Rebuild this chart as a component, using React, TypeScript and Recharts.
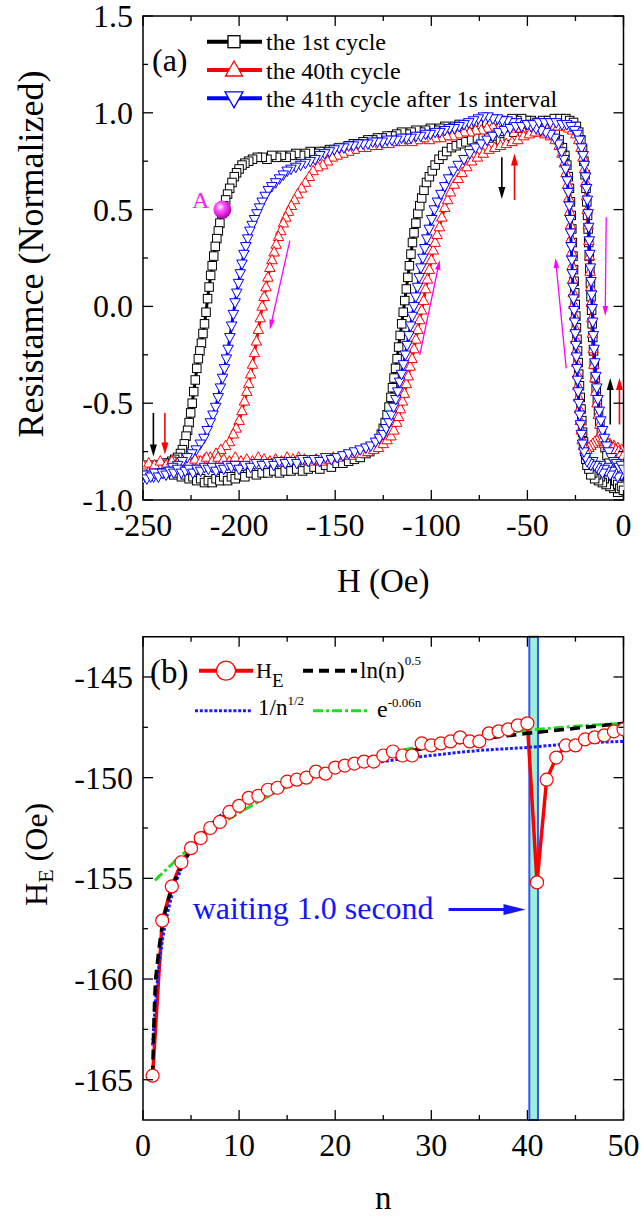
import React from 'react';
import {
  ScatterChart, Scatter, XAxis, YAxis, ReferenceLine, ReferenceDot, ReferenceArea,
  ComposedChart, Line, Legend,
} from 'recharts';

const FONT = '"Liberation Serif", "Times New Roman", Times, serif';

// ---------------- Panel (a): hysteresis loops [H (Oe), R (normalized)] ----------------
const cycle1Down: [number, number][] = [
  [0,-0.93],[-1,-0.95],[-2,-0.92],[-3,-0.96],[-4,-0.93],[-5,-0.94],[-6,-0.91],[-7,-0.93],[-8,-0.9],[-9,-0.92],
  [-10,-0.89],[-11,-0.91],[-12,-0.88],[-13,-0.9],[-14,-0.87],[-15,-0.89],[-16,-0.86],[-17,-0.87],[-18,-0.84],[-19,-0.82],
  [-19.6,-0.79],[-20.2,-0.75],[-20.8,-0.7],[-21.3,-0.65],[-21.7,-0.59],[-22.1,-0.53],[-22.5,-0.47],[-22.9,-0.41],[-23.3,-0.35],[-23.6,-0.29],
  [-23.9,-0.23],[-24.2,-0.17],[-24.5,-0.11],[-24.8,-0.05],[-25.1,0.01],[-25.4,0.07],[-25.7,0.13],[-26,0.19],[-26.3,0.26],[-26.6,0.33],
  [-26.9,0.4],[-27.2,0.47],[-27.6,0.54],[-28.1,0.61],[-28.7,0.67],[-29.5,0.73],[-30.5,0.78],[-31.8,0.82],[-33.5,0.86],[-35.5,0.89],
  [-38,0.91],[-40.5,0.93],[-43,0.94],[-45.5,0.95],[-48,0.96],[-50.5,0.96],[-53,0.97],[-55.5,0.96],[-58,0.97],[-60.5,0.95],
  [-63,0.96],[-65.5,0.95],[-68,0.96],[-70.5,0.95],[-73,0.95],[-75.5,0.94],[-78,0.95],[-80.5,0.94],[-83,0.93],[-85.5,0.94],
  [-88,0.93],[-90.5,0.92],[-93,0.93],[-95.5,0.92],[-98,0.91],[-100.5,0.92],[-103,0.91],[-105.5,0.9],[-108,0.91],[-110.5,0.9],
  [-113,0.89],[-115.5,0.9],[-118,0.89],[-120.5,0.88],[-123,0.88],[-125.5,0.87],[-128,0.87],[-130.5,0.86],[-133,0.86],[-135.5,0.85],
  [-138,0.84],[-140.5,0.84],[-143,0.83],[-145.5,0.82],[-148,0.82],[-150.5,0.81],[-153,0.81],[-155.5,0.8],[-158,0.8],[-160.5,0.79],
  [-163,0.8],[-165.5,0.79],[-168,0.78],[-170.5,0.79],[-173,0.78],[-175.5,0.77],[-178,0.78],[-180.5,0.77],[-183,0.78],[-185.5,0.76],
  [-188,0.77],[-190.5,0.77],[-193,0.76],[-195,0.75],[-197,0.74],[-198.5,0.73],[-200,0.71],[-201.3,0.69],[-202.5,0.67],[-203.7,0.64],
  [-204.9,0.61],[-206,0.58],[-207,0.55],[-208,0.52],[-209,0.48],[-210,0.43],[-210.8,0.39],[-211.6,0.35],[-212.4,0.31],[-213.2,0.26],
  [-214,0.21],[-214.8,0.16],[-215.6,0.1],[-216.4,0.04],[-217.2,-0.03],[-218,-0.09],[-218.8,-0.14],[-219.6,-0.19],[-220.4,-0.23],[-221.2,-0.27],
  [-222,-0.32],[-222.8,-0.38],[-223.6,-0.44],[-224.4,-0.5],[-225.2,-0.55],[-226,-0.6],[-226.8,-0.64],[-227.6,-0.67],[-228.5,-0.71],[-229.5,-0.74],
  [-230.5,-0.76],[-232,-0.78],[-233.5,-0.79],[-235,-0.8],[-237,-0.81],[-239,-0.81],[-241,-0.82],[-243,-0.83],[-245,-0.82],[-247,-0.83],
  [-249,-0.82],[-250,-0.84],
];
const cycle1Up: [number, number][] = [
  [-250,-0.86],[-248,-0.85],[-246,-0.86],[-244,-0.84],[-242,-0.85],[-240,-0.84],[-238,-0.86],[-236,-0.85],[-234,-0.87],[-232,-0.86],
  [-230,-0.88],[-228,-0.87],[-226,-0.89],[-224,-0.88],[-222,-0.9],[-220,-0.89],[-218,-0.91],[-216,-0.9],[-214,-0.91],[-212,-0.89],
  [-210,-0.9],[-208,-0.88],[-206,-0.9],[-204,-0.88],[-202,-0.89],[-200,-0.87],[-197,-0.88],[-194,-0.86],[-191,-0.87],[-188,-0.86],
  [-185,-0.86],[-182,-0.85],[-179,-0.86],[-176,-0.85],[-173,-0.85],[-170,-0.84],[-167,-0.85],[-164,-0.84],[-161,-0.83],[-158,-0.84],
  [-155,-0.82],[-152,-0.83],[-149,-0.81],[-146,-0.81],[-143,-0.8],[-140,-0.79],[-137,-0.78],[-134,-0.76],[-132,-0.75],[-130,-0.73],
  [-128.5,-0.71],[-127,-0.69],[-126,-0.66],[-125,-0.63],[-124,-0.6],[-123,-0.56],[-122,-0.52],[-121,-0.47],[-120.2,-0.42],[-119.4,-0.37],
  [-118.6,-0.32],[-117.8,-0.27],[-117,-0.21],[-116.2,-0.15],[-115.4,-0.09],[-114.6,-0.03],[-113.8,0.03],[-113,0.09],[-112.2,0.15],[-111.4,0.21],
  [-110.6,0.27],[-109.8,0.33],[-109,0.38],[-108,0.43],[-107,0.48],[-106,0.52],[-105,0.56],[-103.8,0.6],[-102.5,0.64],[-101,0.67],
  [-99.5,0.7],[-98,0.73],[-96,0.76],[-94,0.78],[-92,0.8],[-89.5,0.82],[-87,0.83],[-84.5,0.84],[-82,0.85],[-79,0.86],
  [-76,0.87],[-73,0.88],[-70,0.87],[-67,0.88],[-64,0.86],[-62,0.85],[-60,0.88],[-57,0.9],[-54,0.92],[-51,0.93],
  [-48,0.94],[-45,0.95],[-42,0.96],[-39,0.96],[-36,0.97],[-33,0.97],[-30,0.97],[-28,0.96],[-26,0.95],[-24.5,0.93],
  [-23.3,0.9],[-22.2,0.86],[-21.3,0.81],[-20.6,0.75],[-20,0.68],[-19.5,0.61],[-19.1,0.54],[-18.7,0.47],[-18.4,0.4],[-18.1,0.33],
  [-17.8,0.26],[-17.5,0.19],[-17.2,0.12],[-16.9,0.05],[-16.6,-0.02],[-16.3,-0.09],[-16,-0.16],[-15.6,-0.23],[-15.2,-0.3],[-14.7,-0.37],
  [-14.2,-0.43],[-13.6,-0.49],[-13,-0.55],[-12.3,-0.6],[-11.5,-0.65],[-10.6,-0.69],[-9.6,-0.73],[-8.6,-0.77],[-7.5,-0.81],[-6.4,-0.84],
  [-5.2,-0.87],[-4,-0.9],[-3,-0.92],[-2,-0.94],[-1,-0.93],[0,-0.95],
];
const cycle40Down: [number, number][] = [
  [0,-0.76],[-1,-0.74],[-2,-0.75],[-3,-0.73],[-4,-0.75],[-5,-0.72],[-6,-0.73],[-7,-0.71],[-8,-0.72],[-9,-0.7],
  [-10,-0.71],[-11,-0.69],[-12,-0.7],[-13,-0.68],[-14,-0.69],[-15,-0.7],[-16,-0.71],[-17,-0.72],[-18,-0.73],[-19,-0.74],
  [-20,-0.74],[-20.8,-0.72],[-21.5,-0.69],[-22,-0.64],[-22.5,-0.59],[-22.9,-0.53],[-23.3,-0.47],[-23.7,-0.41],[-24,-0.35],[-24.3,-0.29],
  [-24.6,-0.23],[-24.9,-0.17],[-25.2,-0.11],[-25.5,-0.05],[-25.8,0.01],[-26.1,0.07],[-26.4,0.14],[-26.7,0.21],[-27,0.28],[-27.3,0.35],
  [-27.6,0.42],[-28,0.49],[-28.5,0.56],[-29.1,0.63],[-29.9,0.69],[-30.8,0.74],[-32,0.79],[-33.5,0.83],[-35.5,0.86],[-38,0.88],
  [-41,0.89],[-44,0.9],[-47,0.9],[-50,0.91],[-53,0.92],[-56,0.92],[-59,0.93],[-62,0.93],[-65,0.92],[-68,0.93],
  [-71,0.92],[-74,0.91],[-77,0.91],[-80,0.9],[-83,0.9],[-86,0.89],[-89,0.88],[-92,0.88],[-95,0.87],[-98,0.87],
  [-101,0.86],[-104,0.87],[-107,0.86],[-110,0.85],[-113,0.86],[-116,0.85],[-119,0.85],[-122,0.84],[-125,0.84],[-128,0.83],
  [-131,0.83],[-134,0.82],[-137,0.82],[-140,0.81],[-143,0.8],[-146,0.79],[-149,0.78],[-151.5,0.77],[-154,0.75],[-156.5,0.73],
  [-159,0.72],[-161.5,0.7],[-163.5,0.67],[-165.5,0.64],[-167.5,0.61],[-169.5,0.58],[-171.2,0.55],[-172.8,0.52],[-174.3,0.49],[-175.7,0.46],
  [-177,0.43],[-178.3,0.39],[-179.5,0.36],[-180.7,0.32],[-181.8,0.28],[-182.9,0.24],[-184,0.2],[-185,0.15],[-186,0.1],[-187,0.05],
  [-188,0],[-189,-0.06],[-190,-0.12],[-191,-0.18],[-192,-0.24],[-193,-0.3],[-194,-0.35],[-195,-0.4],[-196,-0.44],[-197.2,-0.49],
  [-198.5,-0.54],[-200,-0.59],[-201.5,-0.63],[-203,-0.66],[-205,-0.7],[-207,-0.72],[-209.5,-0.74],[-212,-0.76],[-215,-0.78],[-218,-0.79],
  [-221,-0.8],[-224,-0.8],[-227,-0.81],[-230,-0.81],[-233,-0.82],[-236,-0.82],[-239,-0.83],[-242,-0.82],[-245,-0.83],[-248,-0.84],
  [-250,-0.84],
];
const cycle40Up: [number, number][] = [
  [-250,-0.82],[-247,-0.81],[-244,-0.82],[-241,-0.8],[-238,-0.82],[-235,-0.8],[-232,-0.81],[-229,-0.79],[-226,-0.81],[-223,-0.79],
  [-220,-0.8],[-217,-0.78],[-214,-0.8],[-211,-0.78],[-208,-0.79],[-205,-0.8],[-202,-0.78],[-199,-0.8],[-196,-0.79],[-193,-0.8],
  [-190,-0.78],[-187,-0.79],[-184,-0.8],[-181,-0.79],[-178,-0.8],[-175,-0.78],[-172,-0.79],[-169,-0.78],[-166,-0.79],[-163,-0.8],
  [-160,-0.79],[-157,-0.8],[-154,-0.79],[-151,-0.78],[-148,-0.78],[-145,-0.77],[-142,-0.77],[-139,-0.76],[-136,-0.76],[-133,-0.75],
  [-130,-0.74],[-127.5,-0.73],[-125,-0.71],[-123,-0.69],[-121,-0.67],[-119.5,-0.64],[-118,-0.6],[-117,-0.57],[-116,-0.53],[-115,-0.49],
  [-114,-0.45],[-113,-0.4],[-112,-0.36],[-111,-0.31],[-110,-0.27],[-109,-0.22],[-108,-0.17],[-107,-0.12],[-106,-0.07],[-105,-0.02],
  [-104,0.03],[-103,0.09],[-102,0.14],[-101,0.19],[-100,0.24],[-99,0.29],[-98,0.33],[-97,0.37],[-95.8,0.41],[-94.5,0.46],
  [-93,0.51],[-91.5,0.55],[-90,0.59],[-88,0.63],[-86,0.66],[-84,0.69],[-81.5,0.72],[-79,0.75],[-76,0.77],[-73,0.79],
  [-70,0.81],[-67,0.82],[-64,0.83],[-61,0.84],[-58,0.85],[-55,0.86],[-52,0.88],[-49,0.89],[-46,0.9],[-43,0.91],
  [-40,0.92],[-37,0.93],[-34,0.93],[-31,0.93],[-28.5,0.92],[-26.5,0.91],[-24.8,0.89],[-23.3,0.86],[-22.1,0.82],[-21.1,0.77],
  [-20.3,0.71],[-19.7,0.64],[-19.2,0.57],[-18.8,0.5],[-18.4,0.42],[-18,0.34],[-17.7,0.26],[-17.4,0.18],[-17.1,0.1],[-16.8,0.02],
  [-16.5,-0.06],[-16.2,-0.14],[-15.8,-0.22],[-15.4,-0.3],[-14.9,-0.37],[-14.4,-0.44],[-13.8,-0.5],[-13.1,-0.56],[-12.3,-0.61],[-11.4,-0.65],
  [-10.4,-0.68],[-9.3,-0.7],[-8,-0.71],[-6.7,-0.72],[-5.3,-0.73],[-4,-0.74],[-2.6,-0.75],[-1.3,-0.76],[0,-0.77],
];
const cycle41Down: [number, number][] = [
  [0,-0.85],[-1,-0.87],[-2,-0.86],[-3,-0.88],[-4,-0.84],[-5,-0.86],[-6,-0.85],[-7,-0.87],[-8,-0.83],[-9,-0.85],
  [-10,-0.84],[-11,-0.86],[-12,-0.82],[-13,-0.84],[-14,-0.83],[-15,-0.82],[-16,-0.8],[-17,-0.82],[-18,-0.81],[-19,-0.8],
  [-19.8,-0.78],[-20.6,-0.75],[-21.3,-0.71],[-21.9,-0.66],[-22.4,-0.61],[-22.8,-0.56],[-23.2,-0.5],[-23.6,-0.44],[-23.9,-0.38],[-24.2,-0.32],
  [-24.5,-0.26],[-24.8,-0.2],[-25.1,-0.14],[-25.4,-0.08],[-25.7,-0.02],[-26,0.04],[-26.3,0.1],[-26.6,0.17],[-26.9,0.24],[-27.2,0.31],
  [-27.5,0.38],[-27.8,0.45],[-28.2,0.52],[-28.7,0.59],[-29.3,0.65],[-30.1,0.71],[-31,0.76],[-32.2,0.8],[-33.8,0.84],[-35.8,0.87],
  [-38,0.89],[-40.5,0.9],[-43,0.91],[-45.5,0.92],[-48,0.93],[-50.5,0.94],[-53,0.94],[-55.5,0.95],[-58,0.95],[-60.5,0.96],
  [-63,0.96],[-65.5,0.97],[-68,0.97],[-70.5,0.98],[-73,0.98],[-75.5,0.97],[-78,0.96],[-80.5,0.95],[-83,0.94],[-85.5,0.93],
  [-88,0.92],[-90.5,0.92],[-93,0.91],[-95.5,0.9],[-98,0.9],[-100.5,0.89],[-103,0.89],[-105.5,0.88],[-108,0.88],[-110.5,0.87],
  [-113,0.87],[-115.5,0.87],[-118,0.86],[-120.5,0.86],[-123,0.86],[-125.5,0.85],[-128,0.85],[-130.5,0.85],[-133,0.84],[-135.5,0.84],
  [-138,0.84],[-140.5,0.83],[-143,0.83],[-145.5,0.82],[-148,0.82],[-150.5,0.81],[-153,0.8],[-155.5,0.79],[-158,0.78],[-160.5,0.76],
  [-163,0.75],[-165.5,0.74],[-168,0.73],[-170.5,0.72],[-173,0.71],[-175,0.7],[-177,0.68],[-179,0.66],[-181,0.64],[-183,0.62],
  [-184.8,0.6],[-186.4,0.57],[-188,0.54],[-189.4,0.51],[-190.7,0.48],[-192,0.45],[-193.2,0.42],[-194.4,0.39],[-195.5,0.35],[-196.5,0.31],
  [-197.5,0.27],[-198.5,0.22],[-199.4,0.17],[-200.3,0.12],[-201.2,0.07],[-202.1,0.02],[-203,-0.04],[-203.9,-0.1],[-204.8,-0.16],[-205.7,-0.22],
  [-206.6,-0.27],[-207.6,-0.32],[-208.6,-0.37],[-209.7,-0.42],[-210.9,-0.47],[-212.2,-0.52],[-213.6,-0.56],[-215,-0.6],[-216.6,-0.64],[-218.3,-0.68],
  [-220.2,-0.71],[-222.3,-0.74],[-224.6,-0.76],[-227,-0.78],[-229.5,-0.8],[-232,-0.82],[-234.5,-0.83],[-237,-0.85],[-239.5,-0.86],[-242,-0.86],
  [-244.5,-0.88],[-247,-0.87],[-250,-0.89],
];
const cycle41Up: [number, number][] = [
  [-250,-0.87],[-248,-0.89],[-246,-0.88],[-244,-0.86],[-242,-0.88],[-240,-0.86],[-238,-0.87],[-236,-0.85],[-234,-0.86],[-232,-0.84],
  [-230,-0.86],[-228,-0.85],[-226,-0.84],[-224,-0.86],[-222,-0.84],[-220,-0.85],[-218,-0.83],[-216,-0.84],[-214,-0.83],[-212,-0.85],
  [-210,-0.83],[-208,-0.84],[-206,-0.82],[-204,-0.83],[-202,-0.82],[-200,-0.84],[-197,-0.82],[-194,-0.83],[-191,-0.81],[-188,-0.82],
  [-185,-0.81],[-182,-0.82],[-179,-0.8],[-176,-0.81],[-173,-0.8],[-170,-0.81],[-167,-0.79],[-164,-0.8],[-161,-0.79],[-158,-0.8],
  [-155,-0.78],[-152,-0.79],[-149,-0.78],[-146,-0.77],[-143,-0.76],[-140,-0.75],[-137,-0.74],[-134,-0.73],[-131.5,-0.72],[-129,-0.7],
  [-127,-0.68],[-125,-0.66],[-123.5,-0.63],[-122,-0.6],[-120.8,-0.56],[-119.6,-0.52],[-118.5,-0.48],[-117.5,-0.44],[-116.5,-0.39],[-115.5,-0.35],
  [-114.5,-0.3],[-113.5,-0.25],[-112.6,-0.2],[-111.7,-0.15],[-110.8,-0.1],[-109.9,-0.05],[-109,0],[-108.1,0.05],[-107.2,0.1],[-106.3,0.15],
  [-105.4,0.2],[-104.4,0.25],[-103.4,0.3],[-102.3,0.35],[-101.1,0.4],[-99.8,0.45],[-98.4,0.5],[-96.8,0.54],[-95,0.58],[-93,0.62],
  [-91,0.66],[-88.5,0.7],[-86,0.73],[-83,0.76],[-80,0.79],[-77,0.82],[-74,0.84],[-71,0.86],[-68,0.88],[-65,0.9],
  [-62,0.91],[-59,0.92],[-56,0.93],[-53,0.93],[-50,0.94],[-47,0.94],[-44,0.95],[-41,0.95],[-38,0.95],[-35,0.95],
  [-32,0.94],[-29.5,0.94],[-27.3,0.93],[-25.5,0.91],[-24,0.89],[-22.8,0.86],[-21.8,0.82],[-21,0.78],[-20.3,0.73],[-19.7,0.67],
  [-19.2,0.61],[-18.8,0.55],[-18.4,0.48],[-18.1,0.41],[-17.8,0.34],[-17.5,0.27],[-17.2,0.2],[-16.9,0.13],[-16.6,0.06],[-16.3,-0.01],
  [-16,-0.08],[-15.7,-0.15],[-15.3,-0.22],[-14.9,-0.29],[-14.4,-0.36],[-13.9,-0.42],[-13.3,-0.48],[-12.6,-0.54],[-11.8,-0.59],[-10.9,-0.64],
  [-9.9,-0.68],[-8.8,-0.72],[-7.6,-0.75],[-6.3,-0.78],[-5,-0.8],[-3.7,-0.81],[-2.4,-0.83],[-1.2,-0.82],[0,-0.84],
];

const seriesNamesA = ['the 1st cycle', 'the 40th cycle', 'the 41th cycle after 1s interval'];
const xTicksA = [-250, -225, -200, -175, -150, -125, -100, -75, -50, -25, 0];
const yTicksA = [-1, -0.75, -0.5, -0.25, 0, 0.25, 0.5, 0.75, 1, 1.25, 1.5];

// point A and direction arrows (data coordinates)
const pointA = { h: -208.7, r: 0.5 };
const markerArrows: { from: [number, number]; to: [number, number]; color: string }[] = [
  { from: [-244.6, -0.55], to: [-244.6, -0.775], color: '#000000' },
  { from: [-238.6, -0.55], to: [-238.6, -0.765], color: '#ff0000' },
  { from: [-63.3, 0.77], to: [-63.3, 0.555], color: '#000000' },
  { from: [-56.7, 0.55], to: [-56.7, 0.79], color: '#ff0000' },
  { from: [-6.9, -0.61], to: [-6.9, -0.37], color: '#000000' },
  { from: [-2.1, -0.61], to: [-2.1, -0.37], color: '#ff0000' },
];
const sweepArrows: { from: [number, number]; to: [number, number] }[] = [
  { from: [-173.6, 0.34], to: [-184.0, -0.12] },
  { from: [-106.0, -0.25], to: [-95.6, 0.24] },
  { from: [-29.8, -0.32], to: [-35.4, 0.25] },
  { from: [-9.0, 0.46], to: [-9.5, -0.05] },
];

// ---------------- Panel (b): exchange bias vs cycle number ----------------
const nValues = [1,2,3,4,5,6,7,8,9,10,11,12,13,14,15,16,17,18,19,20,21,22,23,24,25,26,27,28,29,30,31,32,33,34,35,36,37,38,39,40,41,42,43,44,45,46,47,48,49,50];
const heValues = [
  -164.8,-157.1,-155.4,-154.2,-153.5,-153.0,-152.5,-152.2,-151.7,-151.4,
  -151.0,-150.9,-150.6,-150.5,-150.2,-150.1,-150.0,-149.7,-149.8,-149.5,
  -149.4,-149.3,-149.2,-149.2,-148.9,-148.7,-148.9,-148.9,-148.3,-148.4,
  -148.3,-148.2,-148.0,-148.2,-148.2,-147.8,-147.7,-147.6,-147.4,-147.3,
  -155.2,-150.1,-149.0,-148.4,-148.4,-148.1,-148.0,-147.9,-147.7,-147.6,
];
const fitN = [1, 1.25, 1.5, 2, 2.5, 3, 4, 5, 6, 8, 10, 12, 15, 18, 21, 25, 30, 35, 40, 45, 50];
const lnFitValues = [-164.8,-160.6,-159.2,-157.4,-156.3,-155.5,-154.4,-153.6,-152.95,-152.05,-151.4,-150.85,-150.25,-149.75,-149.35,-148.9,-148.5,-148.1,-147.8,-147.55,-147.3];
const sqrtFitValues = [-163.3,-161.4,-160.1,-158.15,-156.85,-155.85,-154.5,-153.55,-152.9,-151.9,-151.25,-150.8,-150.25,-149.85,-149.55,-149.2,-148.9,-148.65,-148.5,-148.3,-148.2];
const expFitN = [1.25, 2, 3, 4, 5, 6, 8, 10, 12, 15, 18, 21, 25, 30, 35, 40, 45, 50];
const expFitValues = [-155.1,-154.75,-154.3,-153.85,-153.45,-153.05,-152.35,-151.75,-151.2,-150.45,-149.9,-149.4,-148.85,-148.35,-147.95,-147.65,-147.45,-147.3];
const xTicksB = [0, 5, 10, 15, 20, 25, 30, 35, 40, 45, 50];
const yTicksB = [-165, -162.5, -160, -157.5, -155, -152.5, -150, -147.5, -145];
const waitBand = { n1: 40.2, n2: 41.1 };
const waitArrow = { n1: 31.8, n2: 39.8, he: -156.55 };

// ---------------- helpers ----------------
const toPts = (arr: [number, number][]) => arr.map(([h, r]) => ({ h, r }));
const cycle1 = toPts([...cycle1Down, ...cycle1Up]);
const cycle40 = toPts([...cycle40Down, ...cycle40Up]);
const cycle41 = toPts([...cycle41Down, ...cycle41Up]);
const heData = nValues.map((n, i) => ({ n, v: heValues[i] }));
const lnFit = fitN.map((n, i) => ({ n, v: lnFitValues[i] }));
const sqrtFit = fitN.map((n, i) => ({ n, v: sqrtFitValues[i] }));
const expFit = expFitN.map((n, i) => ({ n, v: expFitValues[i] }));

const PLOT_W = 480.5;
const PLOT_H_A = 484;
const PLOT_H_B = 483.3;

const isMult = (v: number, m: number) => Math.abs(v / m - Math.round(v / m)) < 1e-6;

const makeXTick = (plotH: number, majorStep: number, fmt: (v: number) => string) => (props: any) => {
  const { x, y, payload } = props;
  const v = payload.value;
  const major = isMult(v, majorStep);
  const len = major ? 10 : 5;
  return (
    <g>
      <line x1={x} x2={x} y1={y} y2={y - len} stroke="#000" strokeWidth={1.3} />
      <line x1={x} x2={x} y1={y - plotH} y2={y - plotH + len} stroke="#000" strokeWidth={1.3} />
      {major && (
        <text x={x} y={y + 25} textAnchor="middle" dominantBaseline="central" fontFamily={FONT} fontSize={32} fill="#000">
          {fmt(v)}
        </text>
      )}
    </g>
  );
};

const makeYTick = (majorStep: number, fmt: (v: number) => string) => (props: any) => {
  const { x, y, payload } = props;
  const v = payload.value;
  const major = isMult(v, majorStep);
  const len = major ? 10 : 5;
  return (
    <g>
      <line x1={x} x2={x + len} y1={y} y2={y} stroke="#000" strokeWidth={1.3} />
      <line x1={x + PLOT_W} x2={x + PLOT_W - len} y1={y} y2={y} stroke="#000" strokeWidth={1.3} />
      {major && (
        <text x={x - 10} y={y} textAnchor="end" dominantBaseline="central" fontFamily={FONT} fontSize={32} fill="#000">
          {fmt(v)}
        </text>
      )}
    </g>
  );
};

const xTickA = makeXTick(PLOT_H_A, 50, (v) => String(v));
const yTickA = makeYTick(0.5, (v) => v.toFixed(1));
const xTickB = makeXTick(PLOT_H_B, 10, (v) => String(v));
const yTickB = makeYTick(5, (v) => String(v));

const squareShape = (size: number, stroke: string) => (p: any) => (
  <rect x={p.cx - size / 2} y={p.cy - size / 2} width={size} height={size} fill="#fff" stroke={stroke} strokeWidth={1} />
);
const triShape = (w: number, h: number, stroke: string, down: boolean) => (p: any) => {
  const s = down ? -1 : 1;
  const pts = `${p.cx},${p.cy - s * h * 0.6} ${p.cx - w / 2},${p.cy + s * h * 0.4} ${p.cx + w / 2},${p.cy + s * h * 0.4}`;
  return <polygon points={pts} fill="#fff" stroke={stroke} strokeWidth={1} />;
};

const arrowShape = (color: string, width: number, headLen: number, headW: number) => (props: any) => {
  const { x1, y1, x2, y2 } = props;
  if ([x1, y1, x2, y2].some((q) => typeof q !== 'number' || isNaN(q))) return <g />;
  const dx = x2 - x1;
  const dy = y2 - y1;
  const L = Math.hypot(dx, dy) || 1;
  const ux = dx / L;
  const uy = dy / L;
  const bx = x2 - ux * headLen;
  const by = y2 - uy * headLen;
  const px = (-uy * headW) / 2;
  const py = (ux * headW) / 2;
  return (
    <g>
      <line x1={x1} y1={y1} x2={bx + ux} y2={by + uy} stroke={color} strokeWidth={width} />
      <polygon points={`${x2},${y2} ${bx + px},${by + py} ${bx - px},${by - py}`} fill={color} />
    </g>
  );
};

const waitShape = (props: any) => {
  const { x1, y1 } = props;
  return (
    <g>
      {arrowShape('#1414ff', 3, 22, 11)(props)}
      <text x={x1 - 15} y={y1 + 9} textAnchor="end" fontFamily={FONT} fontSize={32} fill="#1414ff">
        waiting 1.0 second
      </text>
    </g>
  );
};

const pointAShape = (p: any) => (
  <g>
    <circle cx={p.cx} cy={p.cy} r={9} fill="url(#sphereA)" />
    <text x={p.cx - 13} y={p.cy - 2} textAnchor="end" fontFamily={FONT} fontSize={24} fill="#ee22ee">A</text>
  </g>
);

const LegendA = () => {
  const colors = ['#000000', '#ff0000', '#0000ff'];
  return (
    <svg width={642} height={130} style={{ display: 'block', overflow: 'visible' }}>
      <text x={152} y={70.5} fontFamily={FONT} fontSize={32} fill="#000">(a)</text>
      {seriesNamesA.map((name, i) => {
        const y = 41.7 + i * 28.3;
        const c = colors[i];
        return (
          <g key={name}>
            <line x1={207} x2={262} y1={y} y2={y} stroke={c} strokeWidth={4} />
            {i === 0 && <rect x={228} y={y - 6} width={12} height={12} fill="#fff" stroke={c} strokeWidth={1.3} />}
            {i === 1 && <polygon points={`234,${y - 9} ${225.5},${y + 6} ${242.5},${y + 6}`} fill="#fff" stroke={c} strokeWidth={1.3} />}
            {i === 2 && <polygon points={`234,${y + 9.5} ${225},${y - 6.5} ${243},${y - 6.5}`} fill="#fff" stroke={c} strokeWidth={1.3} />}
            <text x={266} y={y + 8.5} fontFamily={FONT} fontSize={24} fill="#000">{name}</text>
          </g>
        );
      })}
    </svg>
  );
};

const LegendB = () => (
  <svg width={642} height={110} style={{ display: 'block', overflow: 'visible' }}>
    <text x={150} y={62.5} fontFamily={FONT} fontSize={33} fill="#000">(b)</text>
    <line x1={199} x2={253} y1={50.7} y2={50.7} stroke="#ff0000" strokeWidth={4} />
    <circle cx={226} cy={50.7} r={9.5} fill="#fff" stroke="#ff0000" strokeWidth={1.3} />
    <text x={256} y={58} fontFamily={FONT} fontSize={22} fill="#000">
      H<tspan fontSize={19} dy={9}>E</tspan>
    </text>
    <line x1={303} x2={357} y1={50.7} y2={50.7} stroke="#000" strokeWidth={4} strokeDasharray="10 6" />
    <text x={360} y={58} fontFamily={FONT} fontSize={23} fill="#000">
      ln(n)<tspan fontSize={13} dy={-13}>0.5</tspan>
    </text>
    <line x1={195} x2={252} y1={90.7} y2={90.7} stroke="#1a1aff" strokeWidth={3} strokeDasharray="3 1.8" />
    <text x={258} y={95} fontFamily={FONT} fontSize={23} fill="#000">
      1/n<tspan fontSize={13} dy={-10}>1/2</tspan>
    </text>
    <line x1={313} x2={370} y1={90.7} y2={90.7} stroke="#22dd22" strokeWidth={3} strokeDasharray="10 3 3 3" />
    <text x={377} y={97} fontFamily={FONT} fontSize={24} fill="#000">
      e<tspan fontSize={13} dy={-10}>-0.06n</tspan>
    </text>
  </svg>
);

const titleStyle = { fontFamily: FONT, fill: '#000' };

const PanelA = () => (
  <ScatterChart width={642} height={610} margin={{ top: 16, right: 18.5, bottom: 0, left: 0 }}>
    <XAxis
      type="number" dataKey="h" domain={[-250, 0]} ticks={xTicksA} interval={0} allowDataOverflow
      tickSize={0} tickMargin={0} tickLine={false} axisLine={false} height={110} tick={xTickA}
      label={{
        content: (p: any) => {
          const vb = p.viewBox || { x: 143, y: 500, width: PLOT_W };
          return (
            <text x={vb.x + vb.width / 2} y={vb.y + 81} textAnchor="middle" dominantBaseline="central" fontSize={33} {...titleStyle}>
              H (Oe)
            </text>
          );
        },
      }}
    />
    <YAxis
      type="number" dataKey="r" domain={[-1, 1.5]} ticks={yTicksA} interval={0} allowDataOverflow
      tickSize={0} tickMargin={0} tickLine={false} axisLine={false} width={143} tick={yTickA}
      label={{
        content: (p: any) => {
          const vb = p.viewBox || { y: 16, height: PLOT_H_A };
          const cy = vb.y + vb.height / 2 - 4;
          return (
            <text x={31} y={cy} transform={`rotate(-90 31 ${cy})`} textAnchor="middle" dominantBaseline="central" fontSize={36} {...titleStyle}>
              Resistamce (Normalized)
            </text>
          );
        },
      }}
    />
    <ReferenceArea x1={-250} x2={0} y1={-1} y2={1.5} fill="none" stroke="#000" strokeWidth={1.5} fillOpacity={0} />
    <Scatter name={seriesNamesA[0]} data={cycle1} shape={squareShape(8.5, '#000')} line={{ stroke: '#000', strokeWidth: 3 }} lineType="joint" isAnimationActive={false} />
    <Scatter name={seriesNamesA[1]} data={cycle40} shape={triShape(10.5, 9.5, '#ff0000', false)} line={{ stroke: '#ff0000', strokeWidth: 3 }} lineType="joint" isAnimationActive={false} />
    <Scatter name={seriesNamesA[2]} data={cycle41} shape={triShape(10.5, 9.5, '#0000ff', true)} line={{ stroke: '#0000ff', strokeWidth: 3 }} lineType="joint" isAnimationActive={false} />
    {markerArrows.map((a, i) => (
      <ReferenceLine
        key={`ma${i}`}
        segment={[{ x: a.from[0], y: a.from[1] }, { x: a.to[0], y: a.to[1] }]}
        shape={arrowShape(a.color, 1.6, 12, 7)}
      />
    ))}
    {sweepArrows.map((a, i) => (
      <ReferenceLine
        key={`sa${i}`}
        segment={[{ x: a.from[0], y: a.from[1] }, { x: a.to[0], y: a.to[1] }]}
        shape={arrowShape('#ff00ff', 1.3, 10, 5.5)}
      />
    ))}
    <ReferenceDot x={pointA.h} y={pointA.r} r={9} shape={pointAShape} />
    <Legend
      layout="vertical" align="center" verticalAlign="middle"
      wrapperStyle={{ position: 'absolute', left: 0, top: 0, width: 642, height: 130, pointerEvents: 'none' }}
      content={() => <LegendA />}
    />
  </ScatterChart>
);

const PanelB = () => (
  <ComposedChart width={642} height={598} margin={{ top: 16.7, right: 18.5, bottom: 0, left: 0 }}>
    <XAxis
      type="number" dataKey="n" domain={[0, 50]} ticks={xTicksB} interval={0} allowDataOverflow
      tickSize={0} tickMargin={0} tickLine={false} axisLine={false} height={98} tick={xTickB}
      label={{
        content: (p: any) => {
          const vb = p.viewBox || { x: 143, y: 500, width: PLOT_W };
          return (
            <text x={vb.x + vb.width / 2} y={vb.y + 78} textAnchor="middle" dominantBaseline="central" fontSize={33} {...titleStyle}>
              n
            </text>
          );
        },
      }}
    />
    <YAxis
      type="number" domain={[-167, -143]} ticks={yTicksB} interval={0} allowDataOverflow
      tickSize={0} tickMargin={0} tickLine={false} axisLine={false} width={143} tick={yTickB}
      label={{
        content: (p: any) => {
          const vb = p.viewBox || { y: 17, height: PLOT_H_B };
          const cy = vb.y + vb.height / 2 - 24;
          return (
            <text x={36} y={cy} transform={`rotate(-90 36 ${cy})`} textAnchor="middle" dominantBaseline="central" fontSize={32} {...titleStyle}>
              H<tspan fontSize={22} dy={9}>E</tspan><tspan dy={-9}> (Oe)</tspan>
            </text>
          );
        },
      }}
    />
    <ReferenceArea x1={waitBand.n1} x2={waitBand.n2} y1={-167} y2={-143} fill="#9cf2d4" fillOpacity={1} stroke="#3355ff" strokeWidth={2} />
    <ReferenceArea x1={0} x2={50} y1={-167} y2={-143} fill="none" fillOpacity={0} stroke="#000" strokeWidth={1.5} />
    <Line
      data={heData} dataKey="v" type="linear" stroke="#ff0000" strokeWidth={3.5}
      dot={{ r: 6.5, stroke: '#ff0000', strokeWidth: 1.2, fill: '#fff' }} isAnimationActive={false}
    />
    <Line data={expFit} dataKey="v" type="monotone" stroke="#22dd22" strokeWidth={3} strokeDasharray="10 3 3 3" dot={false} isAnimationActive={false} />
    <Line data={sqrtFit} dataKey="v" type="monotone" stroke="#1a1aff" strokeWidth={3} strokeDasharray="3 1.8" dot={false} isAnimationActive={false} />
    <Line data={lnFit} dataKey="v" type="monotone" stroke="#000" strokeWidth={3.5} strokeDasharray="10 6" dot={false} isAnimationActive={false} />
    <ReferenceLine
      segment={[{ x: waitArrow.n1, y: waitArrow.he }, { x: waitArrow.n2, y: waitArrow.he }]}
      shape={waitShape}
    />
    <Legend
      layout="vertical" align="center" verticalAlign="middle"
      wrapperStyle={{ position: 'absolute', left: 0, top: 0, width: 642, height: 110, pointerEvents: 'none' }}
      content={() => <LegendB />}
    />
  </ComposedChart>
);

export default function App() {
  return (
    <div style={{ position: 'absolute', left: 0, top: 0, width: 642, height: 1218, background: '#fff', overflow: 'hidden' }}>
      <svg width={0} height={0} style={{ position: 'absolute' }}>
        <defs>
          <radialGradient id="sphereA" cx="38%" cy="35%" r="65%">
            <stop offset="0%" stopColor="#ffffff" />
            <stop offset="35%" stopColor="#ff55ff" />
            <stop offset="100%" stopColor="#b400b4" />
          </radialGradient>
        </defs>
      </svg>
      <div style={{ position: 'absolute', left: 0, top: 0 }}>
        <PanelA />
      </div>
      <div style={{ position: 'absolute', left: 0, top: 620 }}>
        <PanelB />
      </div>
    </div>
  );
}
